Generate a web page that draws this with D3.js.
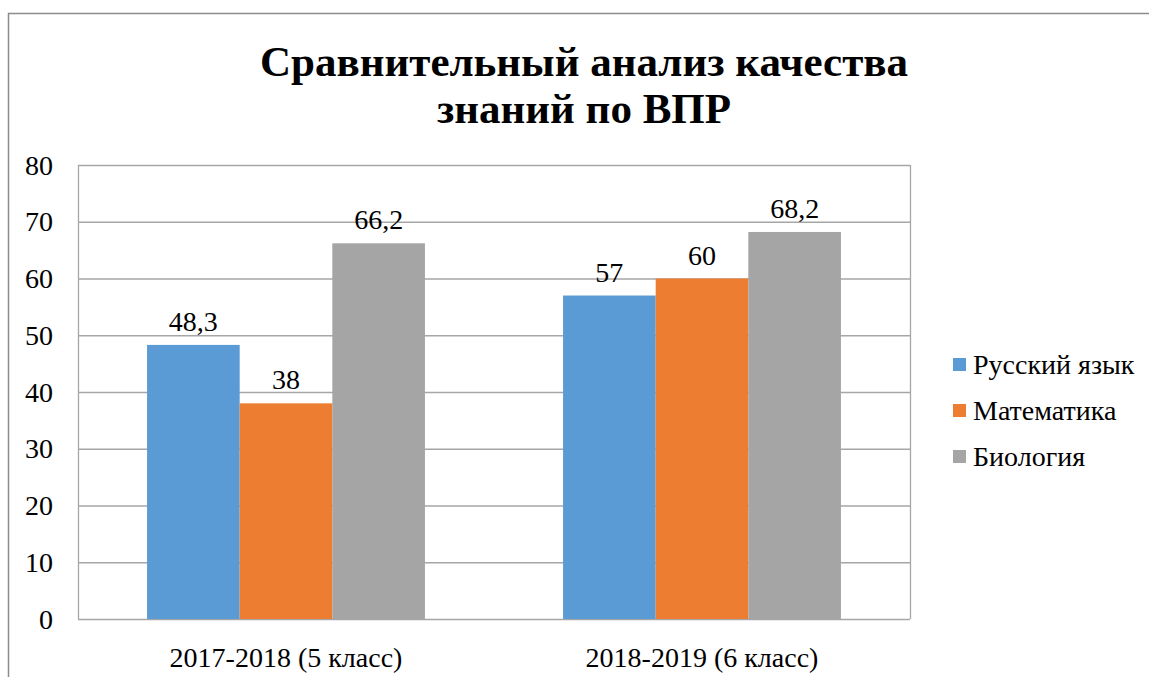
<!DOCTYPE html>
<html>
<head>
<meta charset="UTF-8">
<script src="https://d3js.org/d3.v7.min.js"></script>
<style>
  body { margin: 0; background: #fff; }
</style>
</head>
<body>
<div id="chart"></div>
<script>
// data
var categories = ["2017-2018 (5 класс)", "2018-2019 (6 класс)"];
var series = ["Русский язык", "Математика", "Биология"];
var colors = ["#5b9bd5", "#ed7d31", "#a5a5a5"];
var russian = [48.3, 57];
var maths = [38, 60];
var biology = [66.2, 68.2];
var yTicks = [0, 10, 20, 30, 40, 50, 60, 70, 80];
var titleLines = ["Сравнительный анализ качества", "знаний по ВПР"];

var values = [russian, maths, biology];
var fmt = function(v) { return String(v).replace(".", ","); };

var W = 1149, H = 677;
var plot = {left: 78, top: 165, right: 910, bottom: 619};
var FONT = "'Liberation Serif', 'Times New Roman', 'DejaVu Serif', serif";

var svg = d3.select("#chart").append("svg")
  .attr("width", W).attr("height", H)
  .attr("font-family", FONT)
  .style("font-family", FONT);

// outer chart border (clipped at right/bottom like the screenshot)
svg.append("path")
  .attr("d", "M8.5," + H + " V13.5 H" + W)
  .attr("fill", "none").attr("stroke", "#8c8c8c").attr("stroke-width", 1.5);

// title
svg.append("g").selectAll("text").data(titleLines).enter().append("text")
  .attr("x", 584).attr("y", function(d, i) { return 76 + i * 47; })
  .attr("text-anchor", "middle")
  .style("font-family", FONT)
  .style("font-size", "43px").style("font-weight", "bold")
  .text(function(d) { return d; });

var y = d3.scaleLinear().domain([0, 80]).range([plot.bottom, plot.top]);
var x0 = d3.scaleBand().domain(categories).range([plot.left, plot.right]);
var x1 = d3.scaleBand().domain(series)
  .range([x0.bandwidth() * 0.166, x0.bandwidth() * 0.834]);

// grid
svg.append("g").selectAll("line").data(yTicks).enter().append("line")
  .attr("x1", plot.left).attr("x2", plot.right)
  .attr("y1", function(d) { return y(d) + 0.5; })
  .attr("y2", function(d) { return y(d) + 0.5; })
  .attr("stroke", "#a6a6a6").attr("stroke-width", 1.3);

// plot border sides
[plot.left, plot.right].forEach(function(px) {
  svg.append("line")
    .attr("x1", px + 0.5).attr("x2", px + 0.5)
    .attr("y1", plot.top).attr("y2", plot.bottom)
    .attr("stroke", "#a6a6a6").attr("stroke-width", 1.3);
});

// y axis labels
svg.append("g").selectAll("text").data(yTicks).enter().append("text")
  .attr("x", 53).attr("y", function(d) { return y(d) + 9.5; })
  .attr("text-anchor", "end")
  .style("font-family", FONT)
  .style("font-size", "28px")
  .text(function(d) { return d; });

// bars
var groups = svg.append("g").selectAll("g").data(categories).enter().append("g")
  .attr("transform", function(c) { return "translate(" + x0(c) + ",0)"; });

var cells = function(c, ci) {
  return series.map(function(s, si) { return {s: s, si: si, v: values[si][ci]}; });
};

groups.selectAll("rect").data(cells).enter().append("rect")
  .attr("x", function(d) { return x1(d.s); })
  .attr("width", x1.bandwidth())
  .attr("y", function(d) { return y(d.v); })
  .attr("height", function(d) { return y(0) - y(d.v); })
  .attr("fill", function(d) { return colors[d.si]; });

groups.selectAll("text.val").data(cells).enter().append("text").attr("class", "val")
  .attr("x", function(d) { return x1(d.s) + x1.bandwidth() / 2; })
  .attr("y", function(d) { return y(d.v) - 14; })
  .attr("text-anchor", "middle")
  .style("font-family", FONT)
  .style("font-size", "28px")
  .text(function(d) { return fmt(d.v); });

// category labels
svg.append("g").selectAll("text").data(categories).enter().append("text")
  .attr("x", function(c) { return x0(c) + x0.bandwidth() / 2; })
  .attr("y", 667)
  .attr("text-anchor", "middle")
  .style("font-family", FONT)
  .style("font-size", "28px")
  .text(function(d) { return d; });

// legend
var legend = svg.append("g").selectAll("g").data(series).enter().append("g")
  .attr("transform", function(d, i) { return "translate(953," + (364 + i * 46) + ")"; });
legend.append("rect").attr("x", 0).attr("y", -6).attr("width", 13).attr("height", 13)
  .attr("fill", function(d, i) { return colors[i]; });
legend.append("text").attr("x", 20).attr("y", 10)
  .style("font-family", FONT)
  .style("font-size", "28px")
  .text(function(d) { return d; });
</script>
</body>
</html>
